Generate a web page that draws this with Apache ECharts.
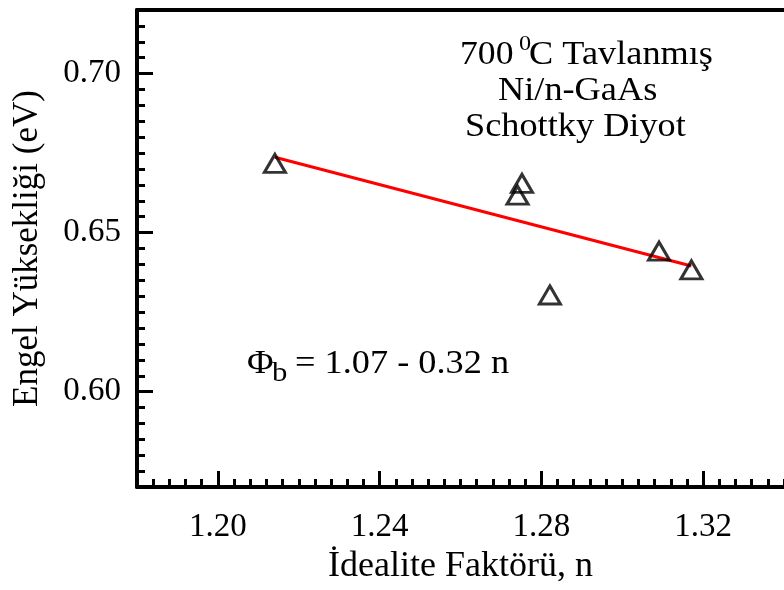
<!DOCTYPE html>
<html>
<head>
<meta charset="utf-8">
<script src="https://cdn.jsdelivr.net/npm/echarts@6/dist/echarts.min.js"></script>
<style>
  html, body { margin: 0; padding: 0; background: #ffffff; }
  #chart { width: 784px; height: 590px; }
</style>
</head>
<body>
<div id="chart"></div>
<script>
// Ideality factor n and barrier height (eV) of the annealed Ni/n-GaAs diodes
const idealityN  = [1.2141, 1.2752, 1.2741, 1.2821, 1.3091, 1.3171];
const barrierPhi = [0.6718, 0.6655, 0.6618, 0.6304, 0.6442, 0.6383];

// Least-squares line end points
const fitN   = [1.2141, 1.3171];
const fitPhi = [0.6737, 0.6395];

// Axis ranges and tick values
const xRange = [1.18, 1.34];
const yRange = [0.57, 0.72];
const xMajorTicks = [1.20, 1.24, 1.28, 1.32];
const yMajorTicks = [0.60, 0.65, 0.70];
const xMinorStep = 0.004;
const yMinorStep = 0.005;

function stepTicks(range, step) {
  const out = [];
  const n = Math.round((range[1] - range[0]) / step);
  for (let i = 0; i <= n; i++) out.push(+(range[0] + i * step).toFixed(4));
  return out;
}
const xMinorTicks = stepTicks(xRange, xMinorStep);
const yMinorTicks = stepTicks(yRange, yMinorStep);

const SERIF = "'Liberation Serif', 'Times New Roman', serif";
const INK = '#000000';

const chart = echarts.init(document.getElementById('chart'), null, { renderer: 'canvas' });

const lineOpts = { show: true, onZero: false, lineStyle: { color: INK, width: 4 } };

const option = {
  animation: false,
  backgroundColor: '#ffffff',
  grid: { left: 137, top: 10, width: 652, height: 482, containLabel: false },
  xAxis: [
    {
      type: 'value', position: 'bottom', min: xRange[0], max: xRange[1],
      axisLine: lineOpts,
      axisTick: { show: true, inside: true, length: 16, customValues: xMajorTicks,
                  lineStyle: { color: INK, width: 3 } },
      axisLabel: { show: true, customValues: xMajorTicks, margin: 24,
                   formatter: v => v.toFixed(2),
                   fontFamily: SERIF, fontSize: 33, color: INK },
      splitLine: { show: false },
      name: 'İdealite Faktörü, n', nameLocation: 'middle', nameGap: 57,
      nameTextStyle: { fontFamily: SERIF, fontSize: 36, color: INK }
    },
    {
      type: 'value', position: 'bottom', min: xRange[0], max: xRange[1],
      axisLine: { show: false, onZero: false },
      axisTick: { show: true, inside: true, length: 8, customValues: xMinorTicks,
                  lineStyle: { color: INK, width: 3 } },
      axisLabel: { show: false },
      splitLine: { show: false }
    },
    {
      type: 'value', position: 'top', min: xRange[0], max: xRange[1],
      axisLine: lineOpts,
      axisTick: { show: false },
      axisLabel: { show: false },
      splitLine: { show: false }
    }
  ],
  yAxis: [
    {
      type: 'value', position: 'left', min: yRange[0], max: yRange[1],
      axisLine: lineOpts,
      axisTick: { show: true, inside: true, length: 16, customValues: yMajorTicks,
                  lineStyle: { color: INK, width: 3 } },
      axisLabel: { show: true, customValues: yMajorTicks, margin: 16,
                   formatter: v => v.toFixed(2),
                   fontFamily: SERIF, fontSize: 33, color: INK },
      splitLine: { show: false },
      name: 'Engel Yüksekliği (eV)', nameLocation: 'middle', nameGap: 92,
      nameTextStyle: { fontFamily: SERIF, fontSize: 35, color: INK }
    },
    {
      type: 'value', position: 'left', min: yRange[0], max: yRange[1],
      axisLine: { show: false, onZero: false },
      axisTick: { show: true, inside: true, length: 8, customValues: yMinorTicks,
                  lineStyle: { color: INK, width: 3 } },
      axisLabel: { show: false },
      splitLine: { show: false }
    }
  ],
  series: [
    {
      type: 'line',
      xAxisIndex: 0, yAxisIndex: 0,
      data: fitN.map((n, i) => [n, fitPhi[i]]),
      showSymbol: false,
      lineStyle: { color: '#ff0000', width: 3 },
      z: 2
    },
    {
      type: 'scatter',
      xAxisIndex: 0, yAxisIndex: 0,
      data: idealityN.map((n, i) => [n, barrierPhi[i]]),
      symbol: 'triangle',
      symbolSize: [21, 18],
      itemStyle: { color: 'rgba(0,0,0,0)', borderColor: INK, borderWidth: 3 },
      z: 3
    }
  ],
  graphic: [
    { type: 'text', x: 460, y: 55.6, scaleX: 1.08,
      style: { text: '700', fontFamily: SERIF, fontSize: 33, fill: INK, align: 'left', verticalAlign: 'middle' } },
    { type: 'text', x: 519, y: 44.3, scaleX: 1.1,
      style: { text: '0', fontFamily: SERIF, fontSize: 22, fill: INK, align: 'left', verticalAlign: 'middle' } },
    { type: 'text', x: 529, y: 55.6, scaleX: 1.1,
      style: { text: 'C Tavlanmış', fontFamily: SERIF, fontSize: 33, fill: INK, align: 'left', verticalAlign: 'middle' } },
    { type: 'text', x: 498, y: 90.9, scaleX: 1.1,
      style: { text: 'Ni/n-GaAs', fontFamily: SERIF, fontSize: 33, fill: INK, align: 'left', verticalAlign: 'middle' } },
    { type: 'text', x: 465, y: 127.4, scaleX: 1.1,
      style: { text: 'Schottky Diyot', fontFamily: SERIF, fontSize: 33, fill: INK, align: 'left', verticalAlign: 'middle' } },
    { type: 'text', x: 247, y: 363.9, scaleX: 1.1,
      style: { text: 'Φ', fontFamily: SERIF, fontSize: 33, fill: INK, align: 'left', verticalAlign: 'middle' } },
    { type: 'text', x: 272, y: 373.5, scaleX: 1.1,
      style: { text: 'b', fontFamily: SERIF, fontSize: 28, fill: INK, align: 'left', verticalAlign: 'middle' } },
    { type: 'text', x: 295, y: 363.9, scaleX: 1.1,
      style: { text: '= 1.07 - 0.32 n', fontFamily: SERIF, fontSize: 33, fill: INK, align: 'left', verticalAlign: 'middle' } }
  ]
};

chart.setOption(option);
</script>
</body>
</html>
